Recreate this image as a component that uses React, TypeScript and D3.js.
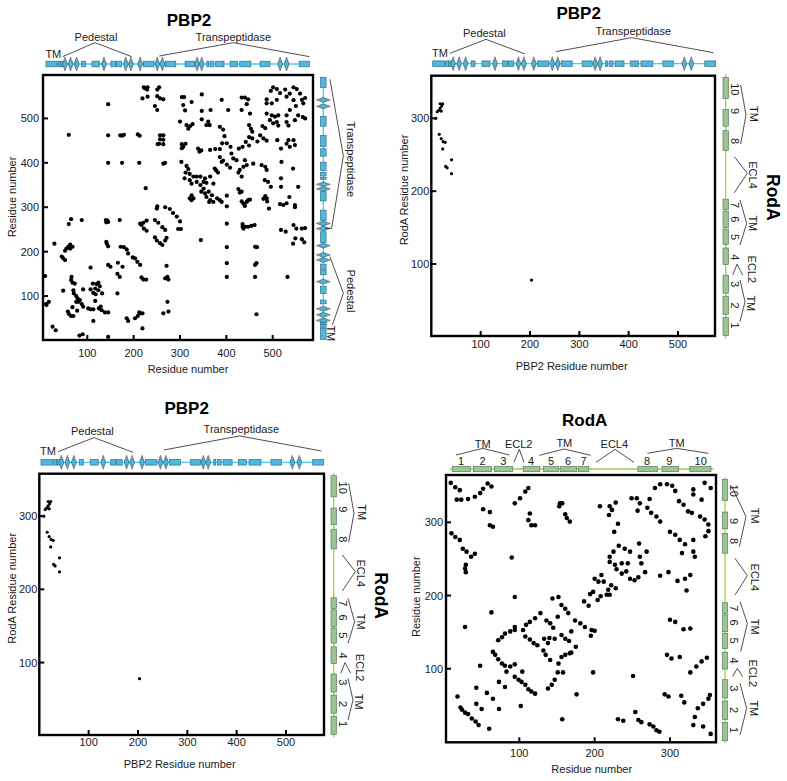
import React from "react";
import * as d3 from "d3";

type P = [number, number];

const pbp2Contacts: P[] = [
[9,145],[12,80],[17,87],[11,82],[25,31],[32,23],[29,218],[45,189],[48,185],[52,181],[48,112],[52,202],[55,207],[59,211],[63,216],[63,207],[68,211],
[60,262],[65,273],[88,271],[58,65],[60,60],[65,55],[70,55],[68,75],[78,67],[66,143],[65,136],[68,130],[73,128],[91,115],
[70,113],[71,106],[76,100],[79,95],[76,87],[81,87],[88,82],[84,91],[91,76],[102,72],[107,70],[113,70],[125,72],[131,68],[138,63],[145,63],[129,76],[117,89],[113,44],
[107,164],[112,128],[120,127],[127,122],[132,106],[124,113],[117,117],[107,115],[113,107],[118,104],[124,130],[165,106],
[145,170],[150,166],[166,175],[176,166],[165,150],[170,143],[142,218],[141,222],[145,212],[140,271],[143,270],[145,267],[141,266],[170,271],
[172,211],[179,210],[185,205],[188,196],[198,187],[203,185],[208,177],[214,170],[217,142],[221,137],[227,137],
[185,50],[188,44],[203,50],[209,55],[214,61],[219,61],[212,63],[219,27],[83,11],[90,14],[145,8],[264,61],[275,65],[273,87],[271,168],[268,140],[273,143],[275,137],
[214,263],[221,265],[228,270],[217,260],[222,252],[228,247],[246,271],[253,265],[262,255],[268,249],[246,232],[250,225],[257,219],[262,215],[268,225],[271,231],
[250,297],[251,302],[268,300],[278,296],[285,287],[293,279],[300,268],[296,251],[302,251],
[345,226],[401,263],[401,210],[401,174],[401,143],[462,211],[466,210],[465,174],[462,170],[462,143],[465,59],[532,143],
[435,256],[441,256],[447,256],[454,258],[461,260],[435,262],[437,252],[518,249],[528,245],[545,260],[551,252],[563,252],[570,253],[549,230],[544,218],[563,228],[568,221],
[60,463],[145,462],[171,462],[179,463],[175,461],[209,464],[213,461],[145,400],[175,400],[212,400],[264,398],[268,400],[145,532],[226,343],
[222,570],[229,565],[224,568],[230,570],[255,570],[251,565],[219,545],[230,549],[251,550],[257,545],[264,543],[246,528],[251,519],
[257,462],[264,462],[257,453],[264,452],[255,443],[264,442],[252,442],
[304,548],[309,548],[307,530],[311,518],[325,537],[347,554],[347,517],[366,519],[390,542],[404,519],[433,547],[440,547],[447,543],[433,519],[444,532],[451,511],
[300,493],[314,485],[322,483],[327,487],[318,477],[347,498],[361,493],[364,485],[357,485],[386,481],[393,475],
[304,442],[307,436],[312,443],[304,433],[339,432],[342,425],[346,428],[365,429],[376,431],[386,431],[391,444],[401,444],[409,436],[396,460],
[427,432],[435,436],[442,447],[449,439],[449,458],[456,455],[467,448],[449,485],[453,477],[456,470],[478,483],[484,478],[473,462],[480,455],[487,450],
[501,570],[509,566],[496,562],[487,543],[487,534],[498,534],[509,542],[516,557],[527,565],[545,570],[552,566],[559,556],[570,546],[563,542],[566,534],[537,556],[530,549],[545,541],[550,528],[537,519],[530,507],[487,511],[498,507],[505,504],[512,507],[509,492],[501,489],[512,484],[534,484],[530,492],[548,496],[555,507],[565,503],[570,500],[494,496],
[510,451],[518,432],[530,443],[534,451],[545,451],[548,440],[537,436],[544,387],[519,402],[518,365],[518,346],[555,346],[536,323],[523,305],[530,309],[516,307],[548,305],[548,300],[492,297],
[487,320],[480,319],[484,325],[488,313],[487,384],[490,357],[483,361],[496,346],[476,395],[484,391],[458,398],
[444,312],[437,308],[447,316],[433,313],[440,303],[451,317],[426,341],[433,335],[429,333],[401,326],[401,302],
[303,402],[314,393],[318,386],[312,378],[321,375],[310,365],[321,361],[329,369],[336,369],[344,369],[325,353],[336,357],[344,350],[351,342],[362,335],[369,327],[365,316],[372,312],[380,320],[386,316],[390,312],[365,369],[354,365],[372,353],[357,355],[351,357],[325,327],[321,320],[329,320],[325,316],[375,387],[382,378],[378,383],[390,402],[386,413],[393,405],[401,396],[408,389],[411,421],[415,410],[422,406],[440,406],[444,395],[437,391],[429,384],[426,378],[433,369],[346,335],[354,331],[357,323],[363,312]
];

const rodaPbp2Contacts: P[] = [
[9,300],[12,309],[18,314],[21,317],[18,320],[23,320],[16,278],[20,272],[24,268],[28,267],[23,258],[41,243],[29,234],[32,232],[41,224],[203,78],[15,311],[20,310]
];

const rodaContacts: P[] = [
[18,62],[22,47],[24,44],[28,40],[32,38],[37,32],[42,28],[46,23],[60,18],[43,74],[57,67],[65,59],[43,52],[50,45],[73,45],[73,82],[81,75],[48,104],[102,49],
[65,123],[68,119],[72,113],[77,107],[81,104],[83,96],[88,103],[94,106],[94,89],[99,85],[104,96],[103,82],[108,78],[112,72],[116,69],[121,66],
[72,139],[77,143],[81,148],[88,151],[94,153],[94,157],[105,153],[108,144],[114,140],[119,135],[124,132],[109,160],[114,164],[121,169],[128,176],
[28,157],[63,177],[94,198],[90,252],[132,125],[135,119],[141,112],[138,73],[143,78],[147,85],[151,95],[158,95],[152,107],[156,116],[161,119],[167,121],[169,122],[175,130],[176,65],
[133,141],[140,142],[147,141],[138,135],[156,146],[161,141],[166,138],[169,151],[136,166],[141,162],[145,156],[151,171],
[144,196],[152,198],[156,187],[161,182],[165,176],[174,166],[181,162],[187,157],[196,153],[200,152],[195,145],[198,95],
[186,192],[192,186],[194,202],[198,205],[204,194],[208,199],[200,223],[205,219],[209,228],[212,219],[222,214],[218,208],[220,201],[216,201],[228,210],
[287,227],[298,232],[310,220],[320,223],[322,207],[327,228],
[220,253],[225,260],[232,268],[240,264],[247,260],[220,246],[227,242],[236,244],[244,244],[229,236],[236,230],[242,233],[247,223],[253,221],[258,225],[267,232],[262,244],[260,253],[269,260],[259,271],[231,298],[226,287],
[207,322],[220,322],[223,317],[228,327],[219,310],[153,322],[154,326],[157,326],[161,311],[163,306],[167,301],
[94,326],[101,333],[108,342],[112,347],[114,312],[112,303],[116,296],[121,296],
[9,354],[15,348],[21,344],[17,331],[23,331],[32,332],[41,335],[48,340],[52,346],[58,353],[63,349],[52,318],[61,314],[61,296],[65,294],
[10,285],[15,280],[21,276],[25,264],[30,260],[36,253],[41,257],[29,242],[28,237],[29,232],
[249,333],[256,333],[260,326],[257,316],[273,332],[270,320],[275,313],[282,308],[287,301],
[280,347],[287,352],[296,352],[303,350],[307,343],[312,329],[318,324],[324,315],[329,313],[331,345],[331,338],[342,331],[346,354],[354,347],
[340,308],[346,304],[351,297],[351,288],[347,281],[300,287],[307,283],[313,276],[320,270],[331,276],[316,258],[331,260],[333,253],
[300,167],[307,164],[318,154],[327,155],[296,119],[302,114],[313,116],[327,95],[335,103],[342,110],[349,115],
[251,90],[293,65],[298,62],[315,63],[319,54],[333,34],[337,46],[344,52],[351,59],[353,64],[331,23],[344,21],[354,11],
[157,31],[231,31],[238,29],[254,41],[258,30],[262,27],[273,24],[278,21],[282,16],[286,14]
];

const pbp2Helices: P[] = [[11,35],[37,43],[43,48],[88,96],[110,126],[151,161],[163,174],[221,244],[269,291],[311,331],[358,362],[365,373],[377,395],[408,424],[429,453],[473,494],[557,579]];
const pbp2Strands: number[] = [52,64,77,136,183,194,214,251,262,337,347,516,530];
const rodaHelices: P[] = [[11,35],[39,63],[67,91],[105,127],[132,152],[154,176],[178,192],[257,283],[289,311],[326,354]];

const pbp2TrackDomain: P = [11, 579];
const rodaTrackDomain: P = [11, 354];
const ticks1 = [100, 200, 300, 400, 500];
const ticks2 = [100, 200, 300];

const FONT = "'Liberation Sans', Arial, sans-serif";
const INK = "#1a1a1a";

function Txt({ x, y, s = 11, rot, bold, children }: any) {
  return (
    <text x={x} y={y} fontSize={s} fontFamily={FONT} fontWeight={bold ? 700 : 400} fill={bold ? "#000" : INK}
      textAnchor="middle" dominantBaseline="central" transform={rot ? `rotate(${rot} ${x} ${y})` : undefined}>
      {children}
    </text>
  );
}

function Frame({ xd, yd, xr, yr, xt, yt, points, r, xTitle, yTitle, xTitleAt, yTitleAt, tickY, labelX }: any) {
  const x = d3.scaleLinear().domain(xd).range(xr);
  const y = d3.scaleLinear().domain(yd).range(yr);
  return (
    <g>
      <g>
        {points.map((p: P, i: number) => <circle key={i} cx={x(p[0])} cy={y(p[1])} r={r} fill="#000" />)}
      </g>
      <rect x={xr[0]} y={yr[1]} width={xr[1] - xr[0]} height={yr[0] - yr[1]} fill="none" stroke="#000" strokeWidth={2.4} />
      {xt.map((t: number) => (
        <g key={t}>
          <line x1={x(t)} x2={x(t)} y1={yr[0]} y2={yr[0] - 5} stroke="#000" strokeWidth={2} />
          <Txt x={x(t)} y={tickY}>{t}</Txt>
        </g>
      ))}
      {yt.map((t: number) => (
        <g key={t}>
          <line x1={xr[0]} x2={xr[0] + 5} y1={y(t)} y2={y(t)} stroke="#000" strokeWidth={2} />
          <text x={labelX} y={y(t)} fontSize={11} fontFamily={FONT} fill={INK} textAnchor="end" dominantBaseline="central">{t}</text>
        </g>
      ))}
      <Txt x={xTitleAt[0]} y={xTitleAt[1]}>{xTitle}</Txt>
      <Txt x={yTitleAt[0]} y={yTitleAt[1]} rot={-90}>{yTitle}</Txt>
    </g>
  );
}

// Secondary-structure strip. `range` runs along the strip; `at` is its fixed cross coordinate.
function Track({ kind, vertical, range, at, lineExt = 0 }: any) {
  const isPbp = kind === "pbp2";
  const s = d3.scaleLinear().domain(isPbp ? pbp2TrackDomain : rodaTrackDomain).range(range);
  const helices: P[] = isPbp ? pbp2Helices : rodaHelices;
  const strands: number[] = isPbp ? pbp2Strands : [];
  const fill = isPbp ? "#4db9de" : "#9dc592";
  const edge = isPbp ? "#35708a" : "#567a5e";
  const wire = isPbp ? "#56c8ea" : "#a6cc55";
  const th = isPbp ? 5.6 : 5.4;
  const dir = range[1] > range[0] ? 1 : -1;
  const a = range[0] - dir * lineExt, b = range[1] + dir * lineExt;
  const rectOf = (h: P) => {
    const p0 = Math.min(s(h[0]), s(h[1])), len = Math.abs(s(h[1]) - s(h[0]));
    return vertical ? { x: at - th / 2, y: p0, width: th, height: len } : { x: p0, y: at - th / 2, width: len, height: th };
  };
  const spike = (c: number) => vertical
    ? `M${at - 7},${c} L${at},${c - 2.4} L${at + 7},${c} L${at},${c + 2.4} Z`
    : `M${c},${at - 7} L${c + 2.4},${at} L${c},${at + 7} L${c - 2.4},${at} Z`;
  return (
    <g>
      {vertical
        ? <line x1={at} x2={at} y1={a} y2={b} stroke={wire} strokeWidth={1.3} />
        : <line x1={a} x2={b} y1={at} y2={at} stroke={wire} strokeWidth={1.3} />}
      {helices.map((h, i) => <rect key={i} {...rectOf(h)} fill={fill} stroke={edge} strokeWidth={0.7} />)}
      {strands.map((t, i) => (
        <g key={i}>
          <path d={spike(s(t))} fill="#2e5f75" fillOpacity={0.55} stroke="#2e4a58" strokeWidth={0.5} />
          <ellipse cx={vertical ? at : s(t)} cy={vertical ? s(t) : at} rx={vertical ? 2.9 : 2.1} ry={vertical ? 2.1 : 2.9} fill={fill} stroke={edge} strokeWidth={0.5} />
        </g>
      ))}
    </g>
  );
}

const Bracket = ({ o, pts }: any) => (
  <polyline points={pts.map((p: P) => `${o[0] + p[0] / 3},${o[1] + p[1] / 3}`).join(" ")} fill="none" stroke="#222" strokeWidth={0.8} />
);
const ZT = ({ o, at, rot, s, bold, children }: any) => (
  <Txt x={o[0] + at[0] / 3} y={o[1] + at[1] / 3} rot={rot} s={s} bold={bold}>{children}</Txt>
);

const roda90Labels: [string, number][] = [["10",268],["9",333],["8",423],["7",615],["6",658],["5",711],["4",772],["3",852],["2",917],["1",977]];

function CrossPanel({ o, xd, yd, xr, yr, trackRange, trackY, rodaX, rodaRange, titleAt }: any) {
  return (
    <g>
      <Frame xd={xd} yd={yd} xr={xr} yr={yr} xt={ticks1} yt={ticks2} points={rodaPbp2Contacts} r={1.6}
        xTitle="PBP2 Residue number" yTitle="RodA Residue number"
        xTitleAt={[o[0] + 545 / 3, o[1] + 1097 / 3]} yTitleAt={[o[0] + 43 / 3, o[1] + 570 / 3]}
        tickY={o[1] + 1031 / 3} labelX={xr[0] - 2} />
      <ZT o={o} at={titleAt} s={17} bold>PBP2</ZT>
      <ZT o={o} at={[283, 98]}>Pedestal</ZT>
      <ZT o={o} at={[150, 158]}>TM</ZT>
      <ZT o={o} at={[730, 92]}>Transpeptidase</ZT>
      <Bracket o={o} pts={[[180,160],[288,118],[405,162]]} />
      <Bracket o={o} pts={[[498,155],[725,113],[970,158]]} />
      <Track kind="pbp2" range={trackRange} at={trackY} />
      <Track kind="roda" vertical range={rodaRange} at={rodaX} lineExt={3} />
      {roda90Labels.map(([t, z]) => <ZT key={t} o={o} at={[1035, z]} rot={90}>{t}</ZT>)}
      <Bracket o={o} pts={[[1052,255],[1068,345],[1052,432]]} />
      <Bracket o={o} pts={[[1033,470],[1072,520],[1033,578]]} />
      <Bracket o={o} pts={[[1050,600],[1070,670],[1050,735]]} />
      <Bracket o={o} pts={[[1028,825],[1041,793],[1058,825]]} />
      <Bracket o={o} pts={[[1050,840],[1065,905],[1050,965]]} />
      <ZT o={o} at={[1092,342]} rot={90}>TM</ZT>
      <ZT o={o} at={[1090,525]} rot={90}>ECL4</ZT>
      <ZT o={o} at={[1090,670]} rot={90}>TM</ZT>
      <ZT o={o} at={[1085,808]} rot={90}>ECL2</ZT>
      <ZT o={o} at={[1083,910]} rot={90}>TM</ZT>
      <ZT o={o} at={[1150,592]} rot={90} s={17.5} bold>RodA</ZT>
    </g>
  );
}

export default function App() {
  const oA: P = [0, 0], oD: P = [400, 400];
  const dTop: [string, number][] = [["1",183],["2",248],["3",310],["4",393],["5",453],["6",504],["7",551],["8",741],["9",808],["10",902]];
  const dRight: [string, number][] = [["10",272],["9",363],["8",423],["7",625],["6",668],["5",722],["4",782],["3",865],["2",930],["1",990]];
  return (
    <svg width={787} height={781} viewBox="0 0 787 781" style={{ position: "absolute", left: 0, top: 0, background: "#fff" }}>
      {/* Panel A */}
      <Frame xd={[4.4, 587]} yd={[1, 597.8]} xr={[43, 313]} yr={[340, 75]} xt={ticks1} yt={ticks1} points={pbp2Contacts} r={2.1}
        xTitle="Residue number" yTitle="Residue number" xTitleAt={[188, 369]} yTitleAt={[12, 197]} tickY={353} labelX={39} />
      <ZT o={oA} at={[567, 62]} s={17} bold>PBP2</ZT>
      <ZT o={oA} at={[288, 110]}>Pedestal</ZT>
      <ZT o={oA} at={[160, 163]}>TM</ZT>
      <ZT o={oA} at={[700, 110]}>Transpeptidase</ZT>
      <Bracket o={oA} pts={[[188,170],[285,128],[395,170]]} />
      <Bracket o={oA} pts={[[478,168],[700,128],[928,170]]} />
      <Track kind="pbp2" range={[46, 309.3]} at={64} />
      <Track kind="pbp2" vertical range={[339.3, 77.3]} at={323.3} />
      <Bracket o={oA} pts={[[990,238],[1030,468],[995,685],[975,685]]} />
      <Bracket o={oA} pts={[[990,770],[1030,880],[997,975]]} />
      <ZT o={oA} at={[1052,478]} rot={90}>Transpeptidase</ZT>
      <ZT o={oA} at={[1052,873]} rot={90}>Pedestal</ZT>
      <ZT o={oA} at={[993,1000]} rot={90}>TM</ZT>

      {/* Panels B and C */}
      <CrossPanel o={[390, 0]} xd={[-0.1, 575]} yd={[1.2, 358.5]} xr={[431.3, 715]} yr={[336, 75.7]}
        trackRange={[432.7, 715.7]} trackY={63.7} rodaX={725.7} rodaRange={[335.3, 77.3]} titleAt={[566, 40]} />
      <CrossPanel o={[-2, 398.3]} xd={[0, 577]} yd={[1, 358]} xr={[39.3, 324]} yr={[735, 473.7]}
        trackRange={[41, 323.7]} trackY={462.3} rodaX={333.7} rodaRange={[734.3, 475.7]} titleAt={[566, 32]} />

      {/* Panel D */}
      <Frame xd={[2.7, 361.1]} yd={[-0.5, 364.7]} xr={[446, 716]} yr={[742.3, 475]} xt={ticks2} yt={ticks2} points={rodaContacts} r={2.3}
        xTitle="Residue number" yTitle="Residue number" xTitleAt={[591.7, 769.3]} yTitleAt={[416, 596.7]} tickY={753.3} labelX={443} />
      <ZT o={oD} at={[554, 62]} s={17} bold>RodA</ZT>
      <ZT o={oD} at={[248,132]}>TM</ZT>
      <ZT o={oD} at={[356,132]}>ECL2</ZT>
      <ZT o={oD} at={[493,130]}>TM</ZT>
      <ZT o={oD} at={[643,131]}>ECL4</ZT>
      <ZT o={oD} at={[830,130]}>TM</ZT>
      {dTop.map(([t, z]) => <ZT key={t} o={oD} at={[z, 183]}>{t}</ZT>)}
      <Bracket o={oD} pts={[[168,165],[248,145],[328,165]]} />
      <Bracket o={oD} pts={[[342,187],[358,148],[372,187]]} />
      <Bracket o={oD} pts={[[418,166],[493,147],[572,166]]} />
      <Bracket o={oD} pts={[[588,187],[645,148],[702,187]]} />
      <Bracket o={oD} pts={[[742,160],[830,145],[925,160]]} />
      <Track kind="roda" range={[452.3, 711]} at={469} lineExt={2.5} />
      <Track kind="roda" vertical range={[740.7, 479.3]} at={725} lineExt={2} />
      {dRight.map(([t, z]) => <ZT key={t} o={oD} at={[1003, z]} rot={90}>{t}</ZT>)}
      <Bracket o={oD} pts={[[995,258],[1038,350],[1018,440]]} />
      <Bracket o={oD} pts={[[1005,475],[1042,527],[1005,585]]} />
      <Bracket o={oD} pts={[[1020,605],[1042,670],[1022,755]]} />
      <Bracket o={oD} pts={[[998,830],[1012,805],[1028,830]]} />
      <Bracket o={oD} pts={[[1020,850],[1040,925],[1020,1005]]} />
      <ZT o={oD} at={[1065,347]} rot={90}>TM</ZT>
      <ZT o={oD} at={[1065,532]} rot={90}>ECL4</ZT>
      <ZT o={oD} at={[1065,680]} rot={90}>TM</ZT>
      <ZT o={oD} at={[1060,820]} rot={90}>ECL2</ZT>
      <ZT o={oD} at={[1062,925]} rot={90}>TM</ZT>
    </svg>
  );
}
